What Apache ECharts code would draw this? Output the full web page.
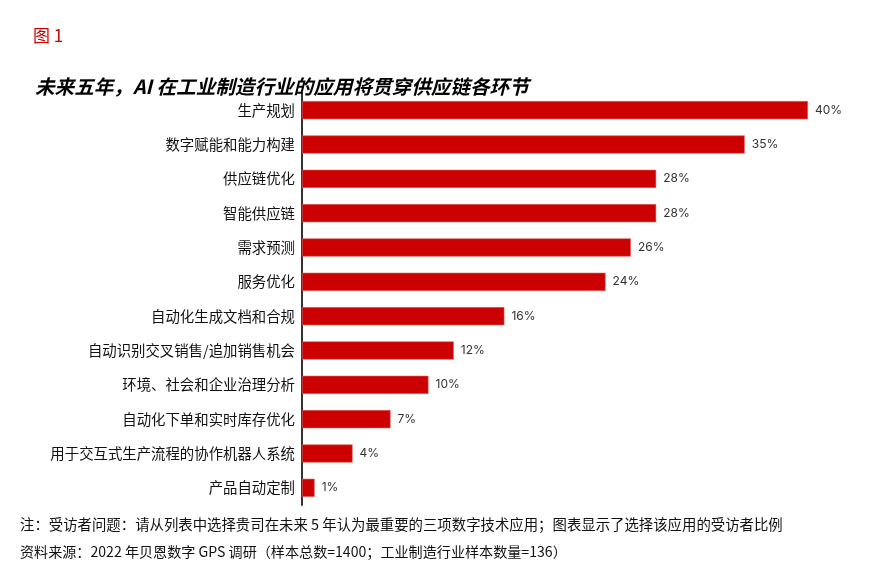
<!DOCTYPE html>
<html>
<head>
<meta charset="utf-8">
<script src="https://cdn.jsdelivr.net/npm/echarts@6/dist/echarts.min.js"></script>
<style>
html,body{margin:0;padding:0;background:#fff;}
#chart{width:870px;height:588px;}
</style>
</head>
<body>
<div id="chart"></div>
<script>
var categories = ['生产规划','数字赋能和能力构建','供应链优化','智能供应链','需求预测','服务优化','自动化生成文档和合规','自动识别交叉销售/追加销售机会','环境、社会和企业治理分析','自动化下单和实时库存优化','用于交互式生产流程的协作机器人系统','产品自动定制'];
var values = [40, 35, 28, 28, 26, 24, 16, 12, 10, 7, 4, 1];
var figLabel = '图 1';
var titleText = '未来五年，AI 在工业制造行业的应用将贯穿供应链各环节';
var noteText = '注：受访者问题：请从列表中选择贵司在未来 5 年认为最重要的三项数字技术应用；图表显示了选择该应用的受访者比例';
var sourceText = '资料来源：2022 年贝恩数字 GPS 调研（样本总数=1400；工业制造行业样本数量=136）';

var chart = echarts.init(document.getElementById('chart'), null, {renderer: 'canvas'});
var option = {
  animation: false,
  backgroundColor: '#ffffff',
  title: [
    {
      text: figLabel, left: 28, top: 22,
      textStyle: {color: '#CC0000', fontSize: 17, fontWeight: 'normal', fontFamily: '"Noto Sans CJK SC", "Liberation Serif", serif'}
    },
    {
      text: titleText, left: 30, top: 72,
      textStyle: {color: '#000', fontSize: 19.6, fontWeight: 'bold', fontStyle: 'italic', fontFamily: '"Noto Sans CJK SC", sans-serif'}
    }
  ],
  graphic: [
    {type: 'text', left: 20, top: 517, style: {text: noteText, fill: '#111', font: '14.4px "Noto Sans CJK SC", sans-serif'}},
    {type: 'text', left: 20, top: 545, style: {text: sourceText, fill: '#111', font: '14.1px "Noto Sans CJK SC", sans-serif'}}
  ],
  grid: {left: 302, right: 62, top: 93, bottom: 83, containLabel: false},
  xAxis: {
    type: 'value', min: 0, max: 40, show: false
  },
  yAxis: {
    type: 'category', data: categories, inverse: true,
    axisLine: {show: true, lineStyle: {color: '#333', width: 2}},
    axisTick: {show: false},
    axisLabel: {color: '#111', fontSize: 14.4, margin: 7, fontFamily: '"Noto Sans CJK SC", sans-serif'}
  },
  series: [{
    type: 'bar', data: values, barCategoryGap: '47%',
    itemStyle: {color: '#CC0000', borderColor: '#E06666', borderWidth: 0.6},
    label: {show: true, position: 'right', distance: 7, color: '#333', fontSize: 12,
      fontFamily: 'Inter, "Noto Sans", sans-serif',
      formatter: function (p) { return p.value + '%'; }}
  }]
};
chart.setOption(option);
</script>
</body>
</html>
